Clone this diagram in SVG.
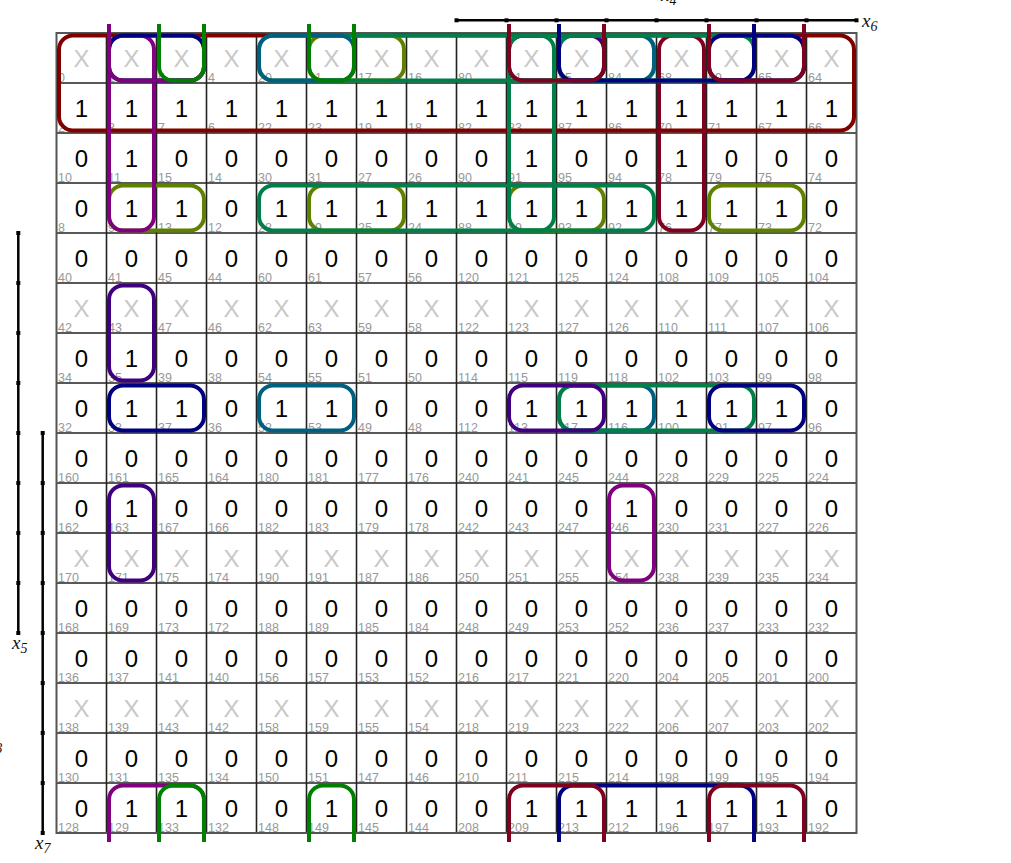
<svg xmlns="http://www.w3.org/2000/svg" width="1011" height="863" viewBox="0 0 1011 863">
<style>
.v{font-family:"Liberation Sans",Arial,sans-serif;font-size:24px;text-anchor:middle;fill:#000}
.x{font-family:"Liberation Sans",Arial,sans-serif;font-size:24px;text-anchor:middle;fill:#c8c8c8}
.n{font-family:"Liberation Sans",Arial,sans-serif;font-size:12.5px;fill:#999}
.lb{font-family:"Liberation Serif","Times New Roman",serif;font-style:italic;font-size:19px;fill:#111}
.lb tspan{font-size:14px}
.ax{stroke:#000;stroke-width:2.5;fill:none}
.tk{fill:#000}
.lp{fill:none;stroke-width:4}
.mr{stroke:#800000}.mc{stroke:#800020}.pu{stroke:#800080}.nv{stroke:#000080}.in{stroke:#400080}
.sg{stroke:#008048}.gr{stroke:#008000}.ol{stroke:#608000}.te{stroke:#006080}
</style>
<rect width="1011" height="863" fill="#fff"/>
<g id="grid" fill="none">
<path stroke="#222" stroke-width="1.6" d="M106.5 33V833M156.5 33V833M206.5 33V833M256.5 33V833M306.5 33V833M356.5 33V833M406.5 33V833M456.5 33V833M506.5 33V833M556.5 33V833M606.5 33V833M656.5 33V833M706.5 33V833M756.5 33V833M806.5 33V833"/>
<path stroke="#222" stroke-width="1.6" d="M56.5 83H856.5M56.5 133H856.5M56.5 183H856.5M56.5 233H856.5M56.5 283H856.5M56.5 333H856.5M56.5 383H856.5M56.5 433H856.5M56.5 483H856.5M56.5 533H856.5M56.5 583H856.5M56.5 633H856.5M56.5 683H856.5M56.5 733H856.5M56.5 783H856.5"/>
<rect x="56.5" y="33" width="800" height="800" stroke="#555" stroke-width="2"/>
</g>
<g id="row0">
<text class="x" x="81.5" y="67">X</text><text class="x" x="131.5" y="67">X</text><text class="x" x="181.5" y="67">X</text><text class="x" x="231.5" y="67">X</text><text class="x" x="281.5" y="67">X</text><text class="x" x="331.5" y="67">X</text><text class="x" x="381.5" y="67">X</text><text class="x" x="431.5" y="67">X</text><text class="x" x="481.5" y="67">X</text><text class="x" x="531.5" y="67">X</text><text class="x" x="581.5" y="67">X</text><text class="x" x="631.5" y="67">X</text><text class="x" x="681.5" y="67">X</text><text class="x" x="731.5" y="67">X</text><text class="x" x="781.5" y="67">X</text><text class="x" x="831.5" y="67">X</text>
<text class="n" x="58" y="81.5">0</text><text class="n" x="108" y="81.5">1</text><text class="n" x="158" y="81.5">5</text><text class="n" x="208" y="81.5">4</text><text class="n" x="258" y="81.5">20</text><text class="n" x="308" y="81.5">21</text><text class="n" x="358" y="81.5">17</text><text class="n" x="408" y="81.5">16</text><text class="n" x="458" y="81.5">80</text><text class="n" x="508" y="81.5">81</text><text class="n" x="558" y="81.5">85</text><text class="n" x="608" y="81.5">84</text><text class="n" x="658" y="81.5">68</text><text class="n" x="708" y="81.5">69</text><text class="n" x="758" y="81.5">65</text><text class="n" x="808" y="81.5">64</text>
</g>
<g id="row1" transform="translate(0,50)">
<text class="v" x="81.5" y="67">1</text><text class="v" x="131.5" y="67">1</text><text class="v" x="181.5" y="67">1</text><text class="v" x="231.5" y="67">1</text><text class="v" x="281.5" y="67">1</text><text class="v" x="331.5" y="67">1</text><text class="v" x="381.5" y="67">1</text><text class="v" x="431.5" y="67">1</text><text class="v" x="481.5" y="67">1</text><text class="v" x="531.5" y="67">1</text><text class="v" x="581.5" y="67">1</text><text class="v" x="631.5" y="67">1</text><text class="v" x="681.5" y="67">1</text><text class="v" x="731.5" y="67">1</text><text class="v" x="781.5" y="67">1</text><text class="v" x="831.5" y="67">1</text>
<text class="n" x="58" y="81.5">2</text><text class="n" x="108" y="81.5">3</text><text class="n" x="158" y="81.5">7</text><text class="n" x="208" y="81.5">6</text><text class="n" x="258" y="81.5">22</text><text class="n" x="308" y="81.5">23</text><text class="n" x="358" y="81.5">19</text><text class="n" x="408" y="81.5">18</text><text class="n" x="458" y="81.5">82</text><text class="n" x="508" y="81.5">83</text><text class="n" x="558" y="81.5">87</text><text class="n" x="608" y="81.5">86</text><text class="n" x="658" y="81.5">70</text><text class="n" x="708" y="81.5">71</text><text class="n" x="758" y="81.5">67</text><text class="n" x="808" y="81.5">66</text>
</g>
<g id="row2" transform="translate(0,100)">
<text class="v" x="81.5" y="67">0</text><text class="v" x="131.5" y="67">1</text><text class="v" x="181.5" y="67">0</text><text class="v" x="231.5" y="67">0</text><text class="v" x="281.5" y="67">0</text><text class="v" x="331.5" y="67">0</text><text class="v" x="381.5" y="67">0</text><text class="v" x="431.5" y="67">0</text><text class="v" x="481.5" y="67">0</text><text class="v" x="531.5" y="67">1</text><text class="v" x="581.5" y="67">0</text><text class="v" x="631.5" y="67">0</text><text class="v" x="681.5" y="67">1</text><text class="v" x="731.5" y="67">0</text><text class="v" x="781.5" y="67">0</text><text class="v" x="831.5" y="67">0</text>
<text class="n" x="58" y="81.5">10</text><text class="n" x="108" y="81.5">11</text><text class="n" x="158" y="81.5">15</text><text class="n" x="208" y="81.5">14</text><text class="n" x="258" y="81.5">30</text><text class="n" x="308" y="81.5">31</text><text class="n" x="358" y="81.5">27</text><text class="n" x="408" y="81.5">26</text><text class="n" x="458" y="81.5">90</text><text class="n" x="508" y="81.5">91</text><text class="n" x="558" y="81.5">95</text><text class="n" x="608" y="81.5">94</text><text class="n" x="658" y="81.5">78</text><text class="n" x="708" y="81.5">79</text><text class="n" x="758" y="81.5">75</text><text class="n" x="808" y="81.5">74</text>
</g>
<g id="row3" transform="translate(0,150)">
<text class="v" x="81.5" y="67">0</text><text class="v" x="131.5" y="67">1</text><text class="v" x="181.5" y="67">1</text><text class="v" x="231.5" y="67">0</text><text class="v" x="281.5" y="67">1</text><text class="v" x="331.5" y="67">1</text><text class="v" x="381.5" y="67">1</text><text class="v" x="431.5" y="67">1</text><text class="v" x="481.5" y="67">1</text><text class="v" x="531.5" y="67">1</text><text class="v" x="581.5" y="67">1</text><text class="v" x="631.5" y="67">1</text><text class="v" x="681.5" y="67">1</text><text class="v" x="731.5" y="67">1</text><text class="v" x="781.5" y="67">1</text><text class="v" x="831.5" y="67">0</text>
<text class="n" x="58" y="81.5">8</text><text class="n" x="108" y="81.5">9</text><text class="n" x="158" y="81.5">13</text><text class="n" x="208" y="81.5">12</text><text class="n" x="258" y="81.5">28</text><text class="n" x="308" y="81.5">29</text><text class="n" x="358" y="81.5">25</text><text class="n" x="408" y="81.5">24</text><text class="n" x="458" y="81.5">88</text><text class="n" x="508" y="81.5">89</text><text class="n" x="558" y="81.5">93</text><text class="n" x="608" y="81.5">92</text><text class="n" x="658" y="81.5">76</text><text class="n" x="708" y="81.5">77</text><text class="n" x="758" y="81.5">73</text><text class="n" x="808" y="81.5">72</text>
</g>
<g id="row4" transform="translate(0,200)">
<text class="v" x="81.5" y="67">0</text><text class="v" x="131.5" y="67">0</text><text class="v" x="181.5" y="67">0</text><text class="v" x="231.5" y="67">0</text><text class="v" x="281.5" y="67">0</text><text class="v" x="331.5" y="67">0</text><text class="v" x="381.5" y="67">0</text><text class="v" x="431.5" y="67">0</text><text class="v" x="481.5" y="67">0</text><text class="v" x="531.5" y="67">0</text><text class="v" x="581.5" y="67">0</text><text class="v" x="631.5" y="67">0</text><text class="v" x="681.5" y="67">0</text><text class="v" x="731.5" y="67">0</text><text class="v" x="781.5" y="67">0</text><text class="v" x="831.5" y="67">0</text>
<text class="n" x="58" y="81.5">40</text><text class="n" x="108" y="81.5">41</text><text class="n" x="158" y="81.5">45</text><text class="n" x="208" y="81.5">44</text><text class="n" x="258" y="81.5">60</text><text class="n" x="308" y="81.5">61</text><text class="n" x="358" y="81.5">57</text><text class="n" x="408" y="81.5">56</text><text class="n" x="458" y="81.5">120</text><text class="n" x="508" y="81.5">121</text><text class="n" x="558" y="81.5">125</text><text class="n" x="608" y="81.5">124</text><text class="n" x="658" y="81.5">108</text><text class="n" x="708" y="81.5">109</text><text class="n" x="758" y="81.5">105</text><text class="n" x="808" y="81.5">104</text>
</g>
<g id="row5" transform="translate(0,250)">
<text class="x" x="81.5" y="67">X</text><text class="x" x="131.5" y="67">X</text><text class="x" x="181.5" y="67">X</text><text class="x" x="231.5" y="67">X</text><text class="x" x="281.5" y="67">X</text><text class="x" x="331.5" y="67">X</text><text class="x" x="381.5" y="67">X</text><text class="x" x="431.5" y="67">X</text><text class="x" x="481.5" y="67">X</text><text class="x" x="531.5" y="67">X</text><text class="x" x="581.5" y="67">X</text><text class="x" x="631.5" y="67">X</text><text class="x" x="681.5" y="67">X</text><text class="x" x="731.5" y="67">X</text><text class="x" x="781.5" y="67">X</text><text class="x" x="831.5" y="67">X</text>
<text class="n" x="58" y="81.5">42</text><text class="n" x="108" y="81.5">43</text><text class="n" x="158" y="81.5">47</text><text class="n" x="208" y="81.5">46</text><text class="n" x="258" y="81.5">62</text><text class="n" x="308" y="81.5">63</text><text class="n" x="358" y="81.5">59</text><text class="n" x="408" y="81.5">58</text><text class="n" x="458" y="81.5">122</text><text class="n" x="508" y="81.5">123</text><text class="n" x="558" y="81.5">127</text><text class="n" x="608" y="81.5">126</text><text class="n" x="658" y="81.5">110</text><text class="n" x="708" y="81.5">111</text><text class="n" x="758" y="81.5">107</text><text class="n" x="808" y="81.5">106</text>
</g>
<g id="row6" transform="translate(0,300)">
<text class="v" x="81.5" y="67">0</text><text class="v" x="131.5" y="67">1</text><text class="v" x="181.5" y="67">0</text><text class="v" x="231.5" y="67">0</text><text class="v" x="281.5" y="67">0</text><text class="v" x="331.5" y="67">0</text><text class="v" x="381.5" y="67">0</text><text class="v" x="431.5" y="67">0</text><text class="v" x="481.5" y="67">0</text><text class="v" x="531.5" y="67">0</text><text class="v" x="581.5" y="67">0</text><text class="v" x="631.5" y="67">0</text><text class="v" x="681.5" y="67">0</text><text class="v" x="731.5" y="67">0</text><text class="v" x="781.5" y="67">0</text><text class="v" x="831.5" y="67">0</text>
<text class="n" x="58" y="81.5">34</text><text class="n" x="108" y="81.5">35</text><text class="n" x="158" y="81.5">39</text><text class="n" x="208" y="81.5">38</text><text class="n" x="258" y="81.5">54</text><text class="n" x="308" y="81.5">55</text><text class="n" x="358" y="81.5">51</text><text class="n" x="408" y="81.5">50</text><text class="n" x="458" y="81.5">114</text><text class="n" x="508" y="81.5">115</text><text class="n" x="558" y="81.5">119</text><text class="n" x="608" y="81.5">118</text><text class="n" x="658" y="81.5">102</text><text class="n" x="708" y="81.5">103</text><text class="n" x="758" y="81.5">99</text><text class="n" x="808" y="81.5">98</text>
</g>
<g id="row7" transform="translate(0,350)">
<text class="v" x="81.5" y="67">0</text><text class="v" x="131.5" y="67">1</text><text class="v" x="181.5" y="67">1</text><text class="v" x="231.5" y="67">0</text><text class="v" x="281.5" y="67">1</text><text class="v" x="331.5" y="67">1</text><text class="v" x="381.5" y="67">0</text><text class="v" x="431.5" y="67">0</text><text class="v" x="481.5" y="67">0</text><text class="v" x="531.5" y="67">1</text><text class="v" x="581.5" y="67">1</text><text class="v" x="631.5" y="67">1</text><text class="v" x="681.5" y="67">1</text><text class="v" x="731.5" y="67">1</text><text class="v" x="781.5" y="67">1</text><text class="v" x="831.5" y="67">0</text>
<text class="n" x="58" y="81.5">32</text><text class="n" x="108" y="81.5">33</text><text class="n" x="158" y="81.5">37</text><text class="n" x="208" y="81.5">36</text><text class="n" x="258" y="81.5">52</text><text class="n" x="308" y="81.5">53</text><text class="n" x="358" y="81.5">49</text><text class="n" x="408" y="81.5">48</text><text class="n" x="458" y="81.5">112</text><text class="n" x="508" y="81.5">113</text><text class="n" x="558" y="81.5">117</text><text class="n" x="608" y="81.5">116</text><text class="n" x="658" y="81.5">100</text><text class="n" x="708" y="81.5">101</text><text class="n" x="758" y="81.5">97</text><text class="n" x="808" y="81.5">96</text>
</g>
<g id="row8" transform="translate(0,400)">
<text class="v" x="81.5" y="67">0</text><text class="v" x="131.5" y="67">0</text><text class="v" x="181.5" y="67">0</text><text class="v" x="231.5" y="67">0</text><text class="v" x="281.5" y="67">0</text><text class="v" x="331.5" y="67">0</text><text class="v" x="381.5" y="67">0</text><text class="v" x="431.5" y="67">0</text><text class="v" x="481.5" y="67">0</text><text class="v" x="531.5" y="67">0</text><text class="v" x="581.5" y="67">0</text><text class="v" x="631.5" y="67">0</text><text class="v" x="681.5" y="67">0</text><text class="v" x="731.5" y="67">0</text><text class="v" x="781.5" y="67">0</text><text class="v" x="831.5" y="67">0</text>
<text class="n" x="58" y="81.5">160</text><text class="n" x="108" y="81.5">161</text><text class="n" x="158" y="81.5">165</text><text class="n" x="208" y="81.5">164</text><text class="n" x="258" y="81.5">180</text><text class="n" x="308" y="81.5">181</text><text class="n" x="358" y="81.5">177</text><text class="n" x="408" y="81.5">176</text><text class="n" x="458" y="81.5">240</text><text class="n" x="508" y="81.5">241</text><text class="n" x="558" y="81.5">245</text><text class="n" x="608" y="81.5">244</text><text class="n" x="658" y="81.5">228</text><text class="n" x="708" y="81.5">229</text><text class="n" x="758" y="81.5">225</text><text class="n" x="808" y="81.5">224</text>
</g>
<g id="row9" transform="translate(0,450)">
<text class="v" x="81.5" y="67">0</text><text class="v" x="131.5" y="67">1</text><text class="v" x="181.5" y="67">0</text><text class="v" x="231.5" y="67">0</text><text class="v" x="281.5" y="67">0</text><text class="v" x="331.5" y="67">0</text><text class="v" x="381.5" y="67">0</text><text class="v" x="431.5" y="67">0</text><text class="v" x="481.5" y="67">0</text><text class="v" x="531.5" y="67">0</text><text class="v" x="581.5" y="67">0</text><text class="v" x="631.5" y="67">1</text><text class="v" x="681.5" y="67">0</text><text class="v" x="731.5" y="67">0</text><text class="v" x="781.5" y="67">0</text><text class="v" x="831.5" y="67">0</text>
<text class="n" x="58" y="81.5">162</text><text class="n" x="108" y="81.5">163</text><text class="n" x="158" y="81.5">167</text><text class="n" x="208" y="81.5">166</text><text class="n" x="258" y="81.5">182</text><text class="n" x="308" y="81.5">183</text><text class="n" x="358" y="81.5">179</text><text class="n" x="408" y="81.5">178</text><text class="n" x="458" y="81.5">242</text><text class="n" x="508" y="81.5">243</text><text class="n" x="558" y="81.5">247</text><text class="n" x="608" y="81.5">246</text><text class="n" x="658" y="81.5">230</text><text class="n" x="708" y="81.5">231</text><text class="n" x="758" y="81.5">227</text><text class="n" x="808" y="81.5">226</text>
</g>
<g id="row10" transform="translate(0,500)">
<text class="x" x="81.5" y="67">X</text><text class="x" x="131.5" y="67">X</text><text class="x" x="181.5" y="67">X</text><text class="x" x="231.5" y="67">X</text><text class="x" x="281.5" y="67">X</text><text class="x" x="331.5" y="67">X</text><text class="x" x="381.5" y="67">X</text><text class="x" x="431.5" y="67">X</text><text class="x" x="481.5" y="67">X</text><text class="x" x="531.5" y="67">X</text><text class="x" x="581.5" y="67">X</text><text class="x" x="631.5" y="67">X</text><text class="x" x="681.5" y="67">X</text><text class="x" x="731.5" y="67">X</text><text class="x" x="781.5" y="67">X</text><text class="x" x="831.5" y="67">X</text>
<text class="n" x="58" y="81.5">170</text><text class="n" x="108" y="81.5">171</text><text class="n" x="158" y="81.5">175</text><text class="n" x="208" y="81.5">174</text><text class="n" x="258" y="81.5">190</text><text class="n" x="308" y="81.5">191</text><text class="n" x="358" y="81.5">187</text><text class="n" x="408" y="81.5">186</text><text class="n" x="458" y="81.5">250</text><text class="n" x="508" y="81.5">251</text><text class="n" x="558" y="81.5">255</text><text class="n" x="608" y="81.5">254</text><text class="n" x="658" y="81.5">238</text><text class="n" x="708" y="81.5">239</text><text class="n" x="758" y="81.5">235</text><text class="n" x="808" y="81.5">234</text>
</g>
<g id="row11" transform="translate(0,550)">
<text class="v" x="81.5" y="67">0</text><text class="v" x="131.5" y="67">0</text><text class="v" x="181.5" y="67">0</text><text class="v" x="231.5" y="67">0</text><text class="v" x="281.5" y="67">0</text><text class="v" x="331.5" y="67">0</text><text class="v" x="381.5" y="67">0</text><text class="v" x="431.5" y="67">0</text><text class="v" x="481.5" y="67">0</text><text class="v" x="531.5" y="67">0</text><text class="v" x="581.5" y="67">0</text><text class="v" x="631.5" y="67">0</text><text class="v" x="681.5" y="67">0</text><text class="v" x="731.5" y="67">0</text><text class="v" x="781.5" y="67">0</text><text class="v" x="831.5" y="67">0</text>
<text class="n" x="58" y="81.5">168</text><text class="n" x="108" y="81.5">169</text><text class="n" x="158" y="81.5">173</text><text class="n" x="208" y="81.5">172</text><text class="n" x="258" y="81.5">188</text><text class="n" x="308" y="81.5">189</text><text class="n" x="358" y="81.5">185</text><text class="n" x="408" y="81.5">184</text><text class="n" x="458" y="81.5">248</text><text class="n" x="508" y="81.5">249</text><text class="n" x="558" y="81.5">253</text><text class="n" x="608" y="81.5">252</text><text class="n" x="658" y="81.5">236</text><text class="n" x="708" y="81.5">237</text><text class="n" x="758" y="81.5">233</text><text class="n" x="808" y="81.5">232</text>
</g>
<g id="row12" transform="translate(0,600)">
<text class="v" x="81.5" y="67">0</text><text class="v" x="131.5" y="67">0</text><text class="v" x="181.5" y="67">0</text><text class="v" x="231.5" y="67">0</text><text class="v" x="281.5" y="67">0</text><text class="v" x="331.5" y="67">0</text><text class="v" x="381.5" y="67">0</text><text class="v" x="431.5" y="67">0</text><text class="v" x="481.5" y="67">0</text><text class="v" x="531.5" y="67">0</text><text class="v" x="581.5" y="67">0</text><text class="v" x="631.5" y="67">0</text><text class="v" x="681.5" y="67">0</text><text class="v" x="731.5" y="67">0</text><text class="v" x="781.5" y="67">0</text><text class="v" x="831.5" y="67">0</text>
<text class="n" x="58" y="81.5">136</text><text class="n" x="108" y="81.5">137</text><text class="n" x="158" y="81.5">141</text><text class="n" x="208" y="81.5">140</text><text class="n" x="258" y="81.5">156</text><text class="n" x="308" y="81.5">157</text><text class="n" x="358" y="81.5">153</text><text class="n" x="408" y="81.5">152</text><text class="n" x="458" y="81.5">216</text><text class="n" x="508" y="81.5">217</text><text class="n" x="558" y="81.5">221</text><text class="n" x="608" y="81.5">220</text><text class="n" x="658" y="81.5">204</text><text class="n" x="708" y="81.5">205</text><text class="n" x="758" y="81.5">201</text><text class="n" x="808" y="81.5">200</text>
</g>
<g id="row13" transform="translate(0,650)">
<text class="x" x="81.5" y="67">X</text><text class="x" x="131.5" y="67">X</text><text class="x" x="181.5" y="67">X</text><text class="x" x="231.5" y="67">X</text><text class="x" x="281.5" y="67">X</text><text class="x" x="331.5" y="67">X</text><text class="x" x="381.5" y="67">X</text><text class="x" x="431.5" y="67">X</text><text class="x" x="481.5" y="67">X</text><text class="x" x="531.5" y="67">X</text><text class="x" x="581.5" y="67">X</text><text class="x" x="631.5" y="67">X</text><text class="x" x="681.5" y="67">X</text><text class="x" x="731.5" y="67">X</text><text class="x" x="781.5" y="67">X</text><text class="x" x="831.5" y="67">X</text>
<text class="n" x="58" y="81.5">138</text><text class="n" x="108" y="81.5">139</text><text class="n" x="158" y="81.5">143</text><text class="n" x="208" y="81.5">142</text><text class="n" x="258" y="81.5">158</text><text class="n" x="308" y="81.5">159</text><text class="n" x="358" y="81.5">155</text><text class="n" x="408" y="81.5">154</text><text class="n" x="458" y="81.5">218</text><text class="n" x="508" y="81.5">219</text><text class="n" x="558" y="81.5">223</text><text class="n" x="608" y="81.5">222</text><text class="n" x="658" y="81.5">206</text><text class="n" x="708" y="81.5">207</text><text class="n" x="758" y="81.5">203</text><text class="n" x="808" y="81.5">202</text>
</g>
<g id="row14" transform="translate(0,700)">
<text class="v" x="81.5" y="67">0</text><text class="v" x="131.5" y="67">0</text><text class="v" x="181.5" y="67">0</text><text class="v" x="231.5" y="67">0</text><text class="v" x="281.5" y="67">0</text><text class="v" x="331.5" y="67">0</text><text class="v" x="381.5" y="67">0</text><text class="v" x="431.5" y="67">0</text><text class="v" x="481.5" y="67">0</text><text class="v" x="531.5" y="67">0</text><text class="v" x="581.5" y="67">0</text><text class="v" x="631.5" y="67">0</text><text class="v" x="681.5" y="67">0</text><text class="v" x="731.5" y="67">0</text><text class="v" x="781.5" y="67">0</text><text class="v" x="831.5" y="67">0</text>
<text class="n" x="58" y="81.5">130</text><text class="n" x="108" y="81.5">131</text><text class="n" x="158" y="81.5">135</text><text class="n" x="208" y="81.5">134</text><text class="n" x="258" y="81.5">150</text><text class="n" x="308" y="81.5">151</text><text class="n" x="358" y="81.5">147</text><text class="n" x="408" y="81.5">146</text><text class="n" x="458" y="81.5">210</text><text class="n" x="508" y="81.5">211</text><text class="n" x="558" y="81.5">215</text><text class="n" x="608" y="81.5">214</text><text class="n" x="658" y="81.5">198</text><text class="n" x="708" y="81.5">199</text><text class="n" x="758" y="81.5">195</text><text class="n" x="808" y="81.5">194</text>
</g>
<g id="row15" transform="translate(0,750)">
<text class="v" x="81.5" y="67">0</text><text class="v" x="131.5" y="67">1</text><text class="v" x="181.5" y="67">1</text><text class="v" x="231.5" y="67">0</text><text class="v" x="281.5" y="67">0</text><text class="v" x="331.5" y="67">1</text><text class="v" x="381.5" y="67">0</text><text class="v" x="431.5" y="67">0</text><text class="v" x="481.5" y="67">0</text><text class="v" x="531.5" y="67">1</text><text class="v" x="581.5" y="67">1</text><text class="v" x="631.5" y="67">1</text><text class="v" x="681.5" y="67">1</text><text class="v" x="731.5" y="67">1</text><text class="v" x="781.5" y="67">1</text><text class="v" x="831.5" y="67">0</text>
<text class="n" x="58" y="81.5">128</text><text class="n" x="108" y="81.5">129</text><text class="n" x="158" y="81.5">133</text><text class="n" x="208" y="81.5">132</text><text class="n" x="258" y="81.5">148</text><text class="n" x="308" y="81.5">149</text><text class="n" x="358" y="81.5">145</text><text class="n" x="408" y="81.5">144</text><text class="n" x="458" y="81.5">208</text><text class="n" x="508" y="81.5">209</text><text class="n" x="558" y="81.5">213</text><text class="n" x="608" y="81.5">212</text><text class="n" x="658" y="81.5">196</text><text class="n" x="708" y="81.5">197</text><text class="n" x="758" y="81.5">193</text><text class="n" x="808" y="81.5">192</text>
</g>
<g id="axes">
<path class="ax" d="M456.5 20.3H856.5M18.3 233V633M42.7 433V833"/>
<g class="tk">
<rect x="454.5" y="18.3" width="4" height="4"/><rect x="504.5" y="18.3" width="4" height="4"/><rect x="554.5" y="18.3" width="4" height="4"/><rect x="604.5" y="18.3" width="4" height="4"/><rect x="654.5" y="18.3" width="4" height="4"/><rect x="704.5" y="18.3" width="4" height="4"/><rect x="754.5" y="18.3" width="4" height="4"/><rect x="804.5" y="18.3" width="4" height="4"/><rect x="854.5" y="18.3" width="4" height="4"/>
<rect x="16.3" y="231" width="4" height="4"/><rect x="16.3" y="281" width="4" height="4"/><rect x="16.3" y="331" width="4" height="4"/><rect x="16.3" y="381" width="4" height="4"/><rect x="16.3" y="431" width="4" height="4"/><rect x="16.3" y="481" width="4" height="4"/><rect x="16.3" y="531" width="4" height="4"/><rect x="16.3" y="581" width="4" height="4"/><rect x="16.3" y="631" width="4" height="4"/>
<rect x="40.7" y="431" width="4" height="4"/><rect x="40.7" y="481" width="4" height="4"/><rect x="40.7" y="531" width="4" height="4"/><rect x="40.7" y="581" width="4" height="4"/><rect x="40.7" y="631" width="4" height="4"/><rect x="40.7" y="681" width="4" height="4"/><rect x="40.7" y="731" width="4" height="4"/><rect x="40.7" y="781" width="4" height="4"/><rect x="40.7" y="831" width="4" height="4"/>
</g>
<text class="lb" x="862" y="27">x<tspan dy="4">6</tspan></text>
<text class="lb" x="661" y="1">x<tspan dy="4">4</tspan></text>
<text class="lb" x="12" y="649">x<tspan dy="4">5</tspan></text>
<text class="lb" x="35" y="849">x<tspan dy="4">7</tspan></text>
<text class="lb" x="-13" y="749">x<tspan dy="4">3</tspan></text>
</g>
<g id="loops">
<rect class="lp mr" x="59" y="35.5" width="795" height="95" rx="14"/>
<g class="lp ol">
<rect x="109" y="35.5" width="95" height="45" rx="14"/><rect x="309" y="35.5" width="95" height="45" rx="14"/><rect x="509" y="35.5" width="95" height="45" rx="14"/><rect x="709" y="35.5" width="95" height="45" rx="14"/>
<rect x="109" y="185.5" width="95" height="45" rx="14"/><rect x="309" y="185.5" width="95" height="45" rx="14"/><rect x="509" y="185.5" width="95" height="45" rx="14"/><rect x="709" y="185.5" width="95" height="45" rx="14"/>
</g>
<rect class="lp in" x="509" y="35.5" width="95" height="45" rx="14"/>
<g class="lp sg">
<rect x="259" y="35.5" width="395" height="45" rx="14"/><rect x="259" y="185.5" width="395" height="45" rx="14"/>
<rect x="509" y="35.5" width="45" height="195" rx="14"/>
</g>
<rect class="lp mc" x="659" y="35.5" width="45" height="195" rx="14"/>
<rect class="lp pu" x="109" y="35.5" width="45" height="195" rx="14"/>
<g class="lp in">
<rect x="109" y="285.5" width="45" height="95" rx="14"/><rect x="109" y="485.5" width="45" height="95" rx="14"/>
</g>
<g class="lp te">
<rect x="259" y="35.5" width="95" height="45" rx="14"/><rect x="559" y="35.5" width="95" height="45" rx="14"/><rect x="259" y="385.5" width="95" height="45" rx="14"/><rect x="559" y="385.5" width="95" height="45" rx="14"/>
</g>
<g class="lp sg">
<rect x="559" y="35.5" width="195" height="45" rx="14"/><rect x="559" y="385.5" width="195" height="45" rx="14"/>
</g>
<rect class="lp in" x="509" y="385.5" width="95" height="45" rx="14"/>
<g class="lp nv">
<rect x="109" y="35.5" width="95" height="45" rx="14"/><rect x="709" y="35.5" width="95" height="45" rx="14"/><rect x="109" y="385.5" width="95" height="45" rx="14"/><rect x="709" y="385.5" width="95" height="45" rx="14"/>
<path d="M559 24V66.5A14 14 0 0 0 573 80.5H740A14 14 0 0 0 754 66.5V24M559 842V799.5A14 14 0 0 1 573 785.5H740A14 14 0 0 1 754 799.5V842"/>
</g>
<path class="lp mc" d="M509 24V66.5A14 14 0 0 0 523 80.5H590A14 14 0 0 0 604 66.5V24M509 842V799.5A14 14 0 0 1 523 785.5H590A14 14 0 0 1 604 799.5V842"/>
<path class="lp mc" d="M709 24V66.5A14 14 0 0 0 723 80.5H790A14 14 0 0 0 804 66.5V24M709 842V799.5A14 14 0 0 1 723 785.5H790A14 14 0 0 1 804 799.5V842"/>
<path class="lp pu" d="M109 24V66.5A14 14 0 0 0 123 80.5H190A14 14 0 0 0 204 66.5V24M109 842V799.5A14 14 0 0 1 123 785.5H190A14 14 0 0 1 204 799.5V842"/>
<path class="lp gr" d="M159 24V66.5A14 14 0 0 0 173 80.5H190A14 14 0 0 0 204 66.5V24M159 842V799.5A14 14 0 0 1 173 785.5H190A14 14 0 0 1 204 799.5V842M309 24V66.5A14 14 0 0 0 323 80.5H340A14 14 0 0 0 354 66.5V24M309 842V799.5A14 14 0 0 1 323 785.5H340A14 14 0 0 1 354 799.5V842"/>
<rect class="lp pu" x="609" y="485.5" width="45" height="95" rx="14"/>
</g>
</svg>
